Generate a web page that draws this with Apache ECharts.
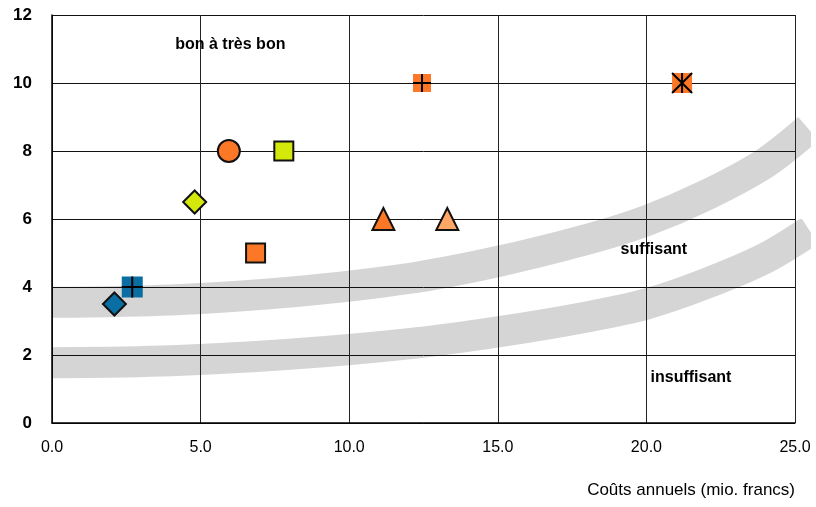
<!DOCTYPE html>
<html>
<head>
<meta charset="utf-8">
<script src="https://cdn.jsdelivr.net/npm/echarts@6/dist/echarts.min.js"></script>
<style>
  html, body { margin: 0; padding: 0; background: #fff; }
  #chart { width: 816px; height: 507px; }
</style>
</head>
<body>
<div id="chart"></div>
<script>
// Projects: annual cost (mio. francs) against rating score
const projectCosts   = [2.1, 2.7, 4.8, 5.95, 7.8, 6.85, 12.45, 11.15, 13.3, 21.2];
const projectRatings = [3.5, 4.0, 6.5, 8.0, 8.0, 5.0, 10.0, 6.0, 6.0, 10.0];

// Boundary bands between rating zones (centre line of each band)
const upperBandCost   = [0, 4, 8, 12, 15, 18, 20, 22, 24, 25.45];
const upperBandRating = [3.55, 3.62, 3.85, 4.25, 4.75, 5.4, 5.95, 6.7, 7.65, 8.65];
const lowerBandCost   = [0, 4, 8, 12, 15, 18, 20, 22, 24, 25.5];
const lowerBandRating = [1.77, 1.83, 2.02, 2.33, 2.68, 3.12, 3.5, 4.1, 4.85, 5.65];

// Zone captions and where they sit
const zoneNames   = ['bon à très bon', 'suffisant', 'insuffisant'];
const zoneCost    = [6.0, 20.25, 21.5];
const zoneRating  = [11.12, 5.09, 1.35];

const xAxisTitle = 'Coûts annuels (mio. francs)';

// Marker appearance per project
const BLUE = '#0a6ea3', LIME = '#d4e80c', ORANGE = '#fc7826', PEACH = '#ffa766';
const PLUS = 'path://M10 0L10 20M0 10L20 10';
const STAR = 'path://M0 0L20 20M20 0L0 20M10 0L10 20';
const markerStyle = [
  { symbol: 'diamond',  size: 23, fill: BLUE,   border: true },
  { symbol: 'rect',     size: 21, fill: BLUE,   border: false, overlay: PLUS },
  { symbol: 'diamond',  size: 23, fill: LIME,   border: true },
  { symbol: 'circle',   size: 22, fill: ORANGE, border: true },
  { symbol: 'rect',     size: 19, fill: LIME,   border: true },
  { symbol: 'rect',     size: 19, fill: ORANGE, border: true },
  { symbol: 'rect',     size: 18, fill: ORANGE, border: false, overlay: PLUS },
  { symbol: 'triangle', size: 22, fill: ORANGE, border: true },
  { symbol: 'triangle', size: 22, fill: PEACH,  border: true },
  { symbol: 'rect',     size: 20, fill: ORANGE, border: false, overlay: STAR }
];

const FONT = '"Liberation Sans", Arial, sans-serif';
const zip = (a, b) => a.map((v, i) => [v, b[i]]);

const markerData = projectCosts.map((c, i) => {
  const s = markerStyle[i];
  return {
    value: [c, projectRatings[i]],
    symbol: s.symbol,
    symbolSize: s.size,
    itemStyle: {
      color: s.fill,
      opacity: 1,
      borderColor: '#111',
      borderWidth: s.border ? 2 : 0
    }
  };
});

const overlayData = [];
projectCosts.forEach((c, i) => {
  const s = markerStyle[i];
  if (s.overlay) {
    overlayData.push({ value: [c, projectRatings[i]], symbol: s.overlay, symbolSize: s.size });
  }
});

const bandLine = (pts) => ({
  type: 'line',
  data: pts,
  smooth: 0.3,
  showSymbol: false,
  symbol: 'none',
  clip: false,
  silent: true,
  z: -1,
  lineStyle: { color: '#d5d5d5', width: 31, cap: 'butt', opacity: 1 }
});

const chart = echarts.init(document.getElementById('chart'), null, { renderer: 'canvas' });
chart.setOption({
  animation: false,
  backgroundColor: '#fff',
  grid: { left: 52, right: 21, top: 15, bottom: 84, containLabel: false, outerBoundsMode: 'none' },
  xAxis: {
    type: 'value',
    min: 0, max: 25, interval: 5,
    axisLine: { show: true, lineStyle: { color: '#000', width: 1.5 } },
    axisTick: { show: false },
    splitLine: { show: true, lineStyle: { color: '#222', width: 1 } },
    axisLabel: {
      margin: 17,
      color: '#000',
      fontFamily: FONT,
      fontSize: 16,
      formatter: (v) => v.toFixed(1)
    }
  },
  yAxis: {
    type: 'value',
    min: 0, max: 12, interval: 2,
    axisLine: { show: true, lineStyle: { color: '#000', width: 1.5 } },
    axisTick: { show: false },
    splitLine: { show: true, lineStyle: { color: '#111', width: 1 } },
    axisLabel: {
      margin: 20,
      color: '#000',
      fontFamily: FONT,
      fontSize: 17,
      fontWeight: 'bold'
    }
  },
  graphic: [{
    type: 'text',
    right: 21,
    top: 482,
    style: {
      text: xAxisTitle,
      fill: '#000',
      font: '17px ' + FONT
    }
  }],
  series: [
    bandLine(zip(upperBandCost, upperBandRating)),
    bandLine(zip(lowerBandCost, lowerBandRating)),
    {
      type: 'scatter',
      data: zoneNames.map((n, i) => ({ name: n, value: [zoneCost[i], zoneRating[i]] })),
      symbolSize: 1,
      itemStyle: { color: 'rgba(0,0,0,0)', opacity: 1 },
      silent: true,
      z: 3,
      label: {
        show: true,
        position: 'inside',
        formatter: (p) => p.name,
        color: '#000',
        opacity: 1,
        fontFamily: FONT,
        fontSize: 16,
        fontWeight: 'bold'
      }
    },
    {
      type: 'scatter',
      data: markerData,
      z: 4
    },
    {
      type: 'scatter',
      data: overlayData,
      z: 5,
      silent: true,
      itemStyle: { color: 'rgba(0,0,0,0)', borderColor: '#000', borderWidth: 2, opacity: 1 }
    }
  ]
});
</script>
</body>
</html>
